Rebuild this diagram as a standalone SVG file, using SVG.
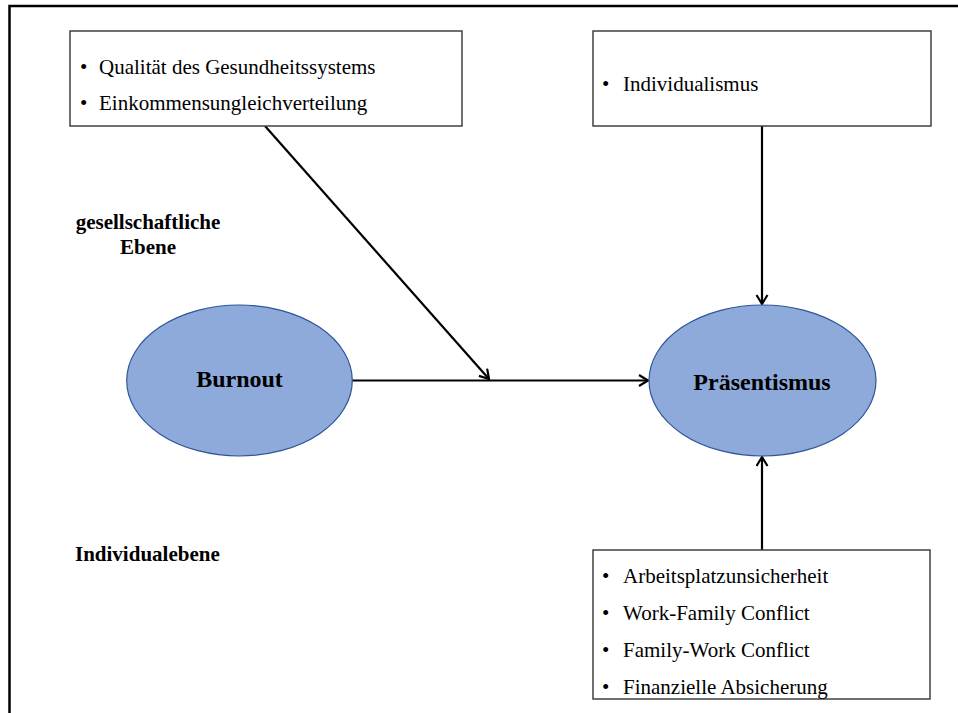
<svg xmlns="http://www.w3.org/2000/svg" width="958" height="713" viewBox="0 0 958 713">
  <style>
    .frame { stroke: #000; stroke-width: 2.5; fill: none; }
    .box { fill: #fff; stroke: #404040; stroke-width: 1.5; }
    .ell { fill: #8eaadb; stroke: #2f5597; stroke-width: 1.2; }
    .item { font-family: "Liberation Serif", "Times New Roman", serif; font-size: 21px; fill: #000; }
    .title { font-family: "Liberation Serif", "Times New Roman", serif; font-size: 24px; font-weight: bold; fill: #000; text-anchor: middle; }
    .level { font-family: "Liberation Serif", "Times New Roman", serif; font-size: 21px; font-weight: bold; fill: #000; }
    .conn { stroke: #000; stroke-width: 2.2; fill: none; marker-end: url(#arrow); }
  </style>
  <defs>
    <marker id="arrow" markerUnits="userSpaceOnUse" markerWidth="13" markerHeight="14" refX="10" refY="6.5" orient="auto">
      <path d="M1,1 L10,6.5 L1,12" fill="none" stroke="#000" stroke-width="2.2"/>
    </marker>
  </defs>

  <rect width="958" height="713" fill="#fff"/>

  <!-- outer frame: top and left edge -->
  <path class="frame" d="M9.5,713 V6 H958"/>

  <!-- level labels -->
  <g id="label-society">
    <text class="level" x="148" y="229" text-anchor="middle">gesellschaftliche</text>
    <text class="level" x="148" y="254" text-anchor="middle">Ebene</text>
  </g>
  <g id="label-individual">
    <text class="level" x="75" y="561">Individualebene</text>
  </g>

  <!-- connectors -->
  <g id="connectors">
    <line class="conn" x1="352" y1="380.5" x2="648" y2="380.5"/>
    <line class="conn" x1="265" y1="126" x2="489" y2="379"/>
    <line class="conn" x1="762" y1="126" x2="762" y2="304"/>
    <line class="conn" x1="762" y1="550" x2="762" y2="457"/>
  </g>

  <!-- societal moderators -->
  <g id="box-society">
    <rect class="box" x="70" y="31" width="392" height="95"/>
    <text class="item" x="80" y="74">•</text>
    <text class="item" x="99" y="74">Qualität des Gesundheitssystems</text>
    <text class="item" x="80" y="110">•</text>
    <text class="item" x="99" y="110">Einkommensungleichverteilung</text>
  </g>

  <g id="box-culture">
    <rect class="box" x="593" y="31" width="338" height="95"/>
    <text class="item" x="602" y="91">•</text>
    <text class="item" x="623" y="91">Individualismus</text>
  </g>

  <!-- individual-level predictors -->
  <g id="box-individual">
    <rect class="box" x="593" y="550" width="337" height="149"/>
    <text class="item" x="602" y="583">•</text>
    <text class="item" x="623" y="583">Arbeitsplatzunsicherheit</text>
    <text class="item" x="602" y="620">•</text>
    <text class="item" x="623" y="620">Work-Family Conflict</text>
    <text class="item" x="602" y="657">•</text>
    <text class="item" x="623" y="657">Family-Work Conflict</text>
    <text class="item" x="602" y="694">•</text>
    <text class="item" x="623" y="694">Finanzielle Absicherung</text>
  </g>

  <!-- constructs -->
  <g id="node-burnout">
    <ellipse class="ell" cx="239.5" cy="380.5" rx="112.8" ry="75.5"/>
    <text class="title" x="239.5" y="387">Burnout</text>
  </g>
  <g id="node-praesentismus">
    <ellipse class="ell" cx="762.5" cy="380.5" rx="113.5" ry="75.5"/>
    <text class="title" x="762" y="390">Präsentismus</text>
  </g>
</svg>
